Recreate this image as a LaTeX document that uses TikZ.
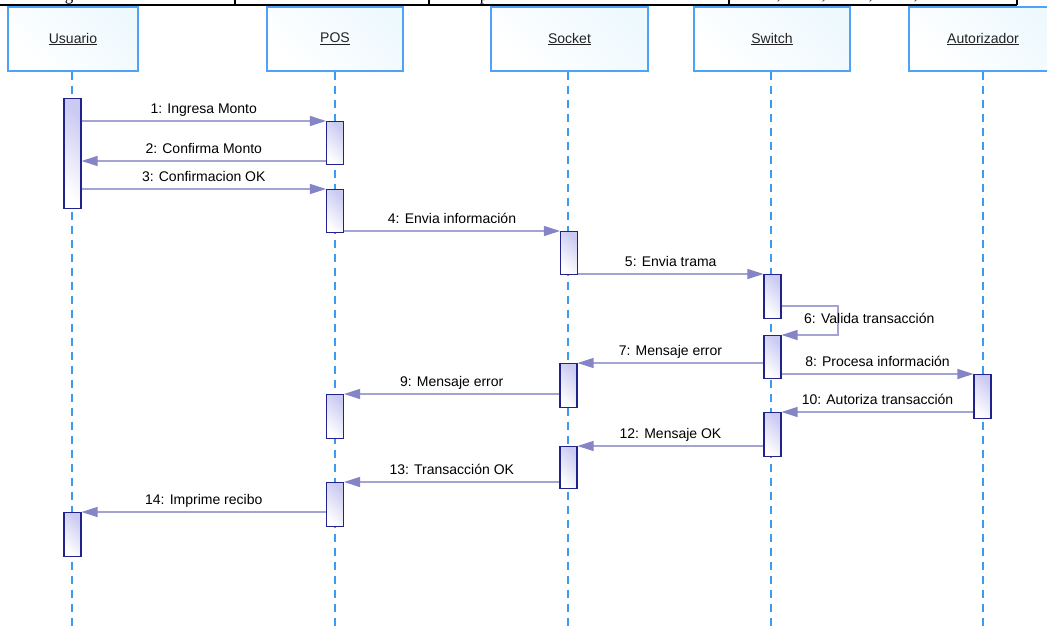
\documentclass[tikz,border=0pt]{standalone}
\usepackage{fontspec}
\setmainfont{Liberation Sans}
\newfontfamily\seriffont{Liberation Serif}
\usetikzlibrary{arrows.meta}

\definecolor{hdrline}{HTML}{4FA3F5}
\definecolor{hdrfill}{HTML}{EEF9FE}
\definecolor{lifeline}{HTML}{3A9BF0}
\definecolor{actline}{HTML}{22228C}
\definecolor{actfill}{HTML}{CACAF2}
\definecolor{msgline}{HTML}{A4A4D4}
\definecolor{msghead}{HTML}{8484C6}
\definecolor{hdrtext}{HTML}{222222}

\tikzset{
  hdr/.style={draw=hdrline, line width=1.2pt, left color=white, right color=hdrfill,
    shading angle=135, minimum height=64pt, inner sep=0pt,
    font=\fontsize{14}{16}\selectfont, text=hdrtext},
  life/.style={draw=lifeline, line width=1.2pt, dash pattern=on 8pt off 6pt},
  act/.style={draw=actline, line width=1.1pt, left color=white, right color=actfill,
    shading angle=135, minimum width=17pt, inner sep=0pt, anchor=north},
  msg/.style={draw=msgline, line width=1.2pt,
    -{Triangle[length=16pt, width=10pt, fill=msghead, color=msghead]}},
  lbltext/.style={inner sep=0pt, text=black, font=\fontsize{14}{16}\selectfont},
  lbl/.style={lbltext, anchor=base, yshift=8pt},
  rule/.style={draw=black, line width=1.3pt},
  frag/.style={inner sep=0pt, anchor=base, font=\seriffont\fontsize{17}{20}\selectfont}
}

\begin{document}
\begin{tikzpicture}[x=1pt, y=-1pt]
\useasboundingbox (0,0) rectangle (1047,629);

% bottom edge of the table row above the diagram
\begin{scope}
  \clip (0,0) rectangle (1047,4.6);
  \node[frag] (fg) at (69,0.6) {g};
  \node[frag] (fp) at (484,0.6) {p};
  \node[frag] (fc1) at (779,-1) {,};
  \node[frag] (fc2) at (824,-1) {,};
  \node[frag] (fc3) at (871,-1) {,};
  \node[frag] (fc4) at (916,-1) {,};
\end{scope}
\coordinate (rl) at (0,5);
\coordinate (rr) at (1017,5);
\draw[rule] (rl) -- (rr);
\foreach \x in {235,429,729,1017} \draw[rule] (\x,0) -- (\x,5);

% participants
\node[hdr, minimum width=130pt] (usr) at (73,39) {\underline{Usuario}};
\node[hdr, minimum width=136pt] (pos) at (335,39) {\underline{POS}};
\node[hdr, minimum width=157pt] (sck) at (569.5,39) {\underline{Socket}};
\node[hdr, minimum width=156pt] (swt) at (772,39) {\underline{Switch}};
\node[hdr, minimum width=148pt] (aut) at (983,39) {\underline{Autorizador}};

% lifelines
\coordinate (usrEnd) at (72,629);
\coordinate (posEnd) at (335,629);
\coordinate (sckEnd) at (568,629);
\coordinate (swtEnd) at (771,629);
\coordinate (autEnd) at (983,629);
\draw[life] (usrEnd |- usr.south) -- (usrEnd);
\draw[life] (posEnd |- pos.south) -- (posEnd);
\draw[life] (sckEnd |- sck.south) -- (sckEnd);
\draw[life] (swtEnd |- swt.south) -- (swtEnd);
\draw[life] (autEnd |- aut.south) -- (autEnd);

% activation bars
\node[act, minimum height=110pt] (u1) at (72.5,98) {};
\node[act, minimum height=43pt] (p1) at (335,121) {};
\node[act, minimum height=43pt] (p2) at (335,189) {};
\node[act, minimum height=43pt] (s1) at (569,231) {};
\node[act, minimum height=44pt] (w1) at (772.5,274) {};
\node[act, minimum height=43pt] (w2) at (772.5,335) {};
\node[act, minimum height=44pt] (s2) at (568.5,363) {};
\node[act, minimum height=44pt] (a1) at (982.5,374) {};
\node[act, minimum height=44pt] (p3) at (335,394) {};
\node[act, minimum height=44pt] (w3) at (772.5,412) {};
\node[act, minimum height=42pt] (s3) at (568.5,446) {};
\node[act, minimum height=44pt] (p4) at (335,482) {};
\node[act, minimum height=44pt] (u2) at (72.5,512) {};

% messages
\draw[msg] (u1.east |- p1.north) -- node[lbl] {1: Ingresa Monto} (p1.north west);
\draw[msg] (p1.west |- 0,161) -- node[lbl] {2: Confirma Monto} (u1.east |- 0,161);
\draw[msg] (u1.east |- p2.north) -- node[lbl] {3: Confirmacion OK} (p2.north west);
\draw[msg] (p2.east |- s1.north) -- node[lbl] {4: Envia información} (s1.north west);
\draw[msg] (s1.east |- w1.north) -- node[lbl] {5: Envia trama} (w1.north west);
\coordinate (loopA) at (838,306);
\coordinate (loopB) at (838,335);
\draw[msg] (w1.east |- loopA) -- (loopA) -- (loopB) -- (w2.north east);
\node[lbltext, anchor=base west] (l6) at (804,323) {6: Valida transacción};
\draw[msg] (w2.west |- s2.north) -- node[lbl] {7: Mensaje error} (s2.north east);
\draw[msg] (w2.east |- a1.north) -- node[lbl] {8: Procesa información} (a1.north west);
\draw[msg] (s2.west |- p3.north) -- node[lbl] {9: Mensaje error} (p3.north east);
\draw[msg] (a1.west |- w3.north) -- node[lbl] {10: Autoriza transacción} (w3.north east);
\draw[msg] (w3.west |- s3.north) -- node[lbl] {12: Mensaje OK} (s3.north east);
\draw[msg] (s3.west |- p4.north) -- node[lbl] {13: Transacción OK} (p4.north east);
\draw[msg] (p4.west |- u2.north) -- node[lbl] {14: Imprime recibo} (u2.north east);
\end{tikzpicture}
\end{document}
